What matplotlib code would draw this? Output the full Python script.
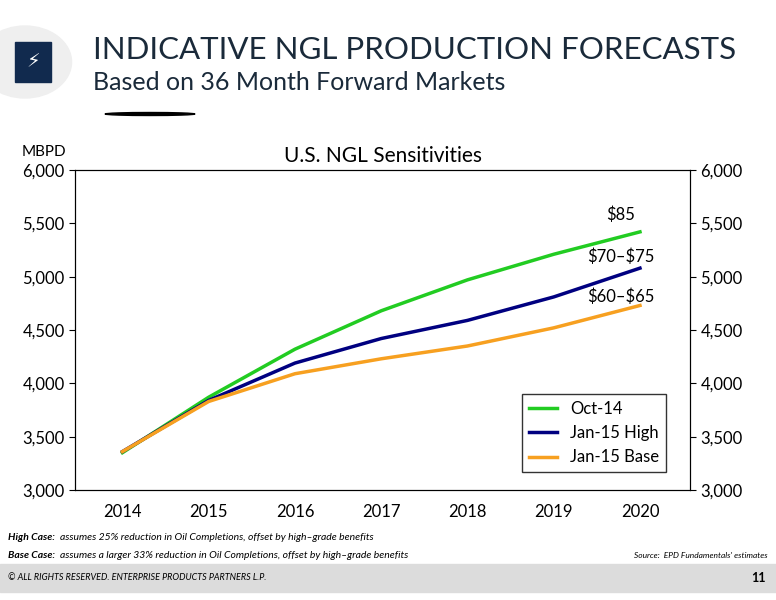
import matplotlib
matplotlib.use("Agg")
import matplotlib.pyplot as plt
from matplotlib.patches import Rectangle, Circle, Ellipse

plt.rcParams['font.family'] = ['Lato', 'DejaVu Sans']

years = ["2014", "2015", "2016", "2017", "2018", "2019", "2020"]
oct14 = [3350, 3870, 4320, 4680, 4970, 5210, 5420]
jan15_high = [3360, 3840, 4190, 4420, 4590, 4810, 5080]
jan15_base = [3360, 3830, 4090, 4230, 4350, 4520, 4730]
series_names = ["Oct-14", "Jan-15 High", "Jan-15 Base"]
colors = ["#22cc22", "#000080", "#f7a020"]
price_labels = [r"\$85", "\\$70\u2013\\$75", "\\$60\u2013\\$65"]
yticks = [3000, 3500, 4000, 4500, 5000, 5500, 6000]

fig = plt.figure(figsize=(7.76, 6), dpi=100)
W, H = 776, 600
def fx(p): return p / W
def fy(p): return 1 - p / H

fig.patches.append(Circle((fx(25), fy(62)), 0.06, transform=fig.transFigure, color="#efefef", zorder=0))
fig.patches.append(Rectangle((fx(15), fy(82)), 36/W, 40/H, transform=fig.transFigure, color="#112a4e", zorder=1))
fig.text(fx(33), fy(62), "\u26a1", color="white", fontsize=14, ha="center", va="center", family=['DejaVu Sans'])
fig.text(fx(93), fy(50), "INDICATIVE NGL PRODUCTION FORECASTS", fontsize=22.5, color="#1a2a3a", va="center")
fig.text(fx(93), fy(82), "Based on 36 Month Forward Markets", fontsize=18, color="#1a2a3a", va="center")
fig.patches.append(Ellipse((fx(150), fy(114)), 90/W, 3/H, transform=fig.transFigure, color="black"))

ax = fig.add_axes([fx(75), fy(490), (690-75)/W, 320/H])
x = range(len(years))
for vals, name, c in zip([oct14, jan15_high, jan15_base], series_names, colors):
    ax.plot(x, vals, color=c, lw=2.5, label=name)
ax.set_xlim(-0.55, 6.58)
ax.set_ylim(3000, 6000)
ax.set_yticks(yticks)
ax.set_yticklabels([f"{v:,}" for v in yticks], fontsize=12)
ax.set_xticks(list(x))
ax.set_xticklabels(years, fontsize=12)
ax.tick_params(axis='x', length=0, pad=10)
ax.tick_params(axis='y', direction='out', length=4)
ax2 = ax.twinx()
ax2.set_ylim(3000, 6000)
ax2.set_yticks(yticks)
ax2.set_yticklabels([f"{v:,}" for v in yticks], fontsize=12)
ax2.tick_params(axis='y', direction='out', length=4)
ax.set_title("U.S. NGL Sensitivities", fontsize=15, pad=6)
fig.text(fx(22), fy(152), "MBPD", fontsize=11, va="center")
for vals, lab, dy in zip([oct14, jan15_high, jan15_base], price_labels, [12.5, 8.5, 6]):
    ax.annotate(lab, (6, vals[-1]), xytext=(-14, dy), textcoords="offset points", ha="center", va="center", fontsize=12)
leg = ax.legend(loc="lower right", bbox_to_anchor=(0.975, 0.03), fontsize=12, frameon=True, fancybox=False, edgecolor="black", handlelength=1.7)

fig.text(fx(8), fy(538), "High Case:", fontsize=7.5, style="italic", weight="bold", va="center")
fig.text(fx(60), fy(538), "assumes 25% reduction in Oil Completions, offset by high\u2013grade benefits", fontsize=7.5, style="italic", va="center")
fig.text(fx(8), fy(555), "Base Case:", fontsize=7.5, style="italic", weight="bold", va="center")
fig.text(fx(60), fy(555), "assumes a larger 33% reduction in Oil Completions, offset by high\u2013grade benefits", fontsize=7.5, style="italic", va="center")
fig.text(fx(768), fy(555), "Source:  EPD Fundamentals' estimates", fontsize=6, style="italic", ha="right", va="center")
fig.patches.append(Rectangle((0, fy(592)), 1, 28/H, transform=fig.transFigure, color="#dcdcdc", zorder=0))
fig.text(fx(8), fy(578), "\u00a9 ALL RIGHTS RESERVED. ENTERPRISE PRODUCTS PARTNERS L.P.", fontsize=6.5, style="italic", va="center")
fig.text(fx(766), fy(578), "11", fontsize=9, weight="bold", ha="right", va="center")

fig.savefig("out.png", dpi=100)
